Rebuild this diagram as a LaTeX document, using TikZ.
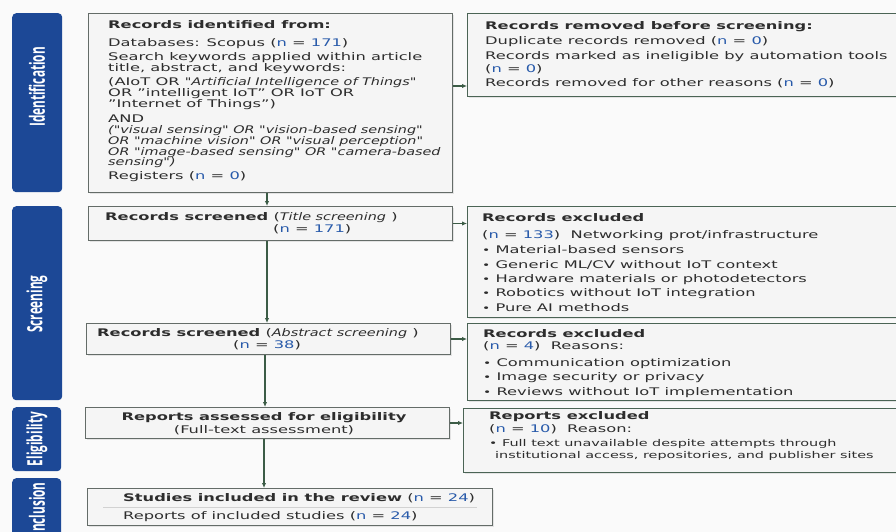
\documentclass[tikz,border=0pt]{standalone}
\usepackage{fontspec}
\setmainfont[FakeStretch=1.55]{DejaVu Sans}
\newfontfamily\itfam[FakeStretch=1.37]{DejaVu Sans}
\newfontfamily\labelfont[FakeStretch=0.56]{Open Sans}
\usetikzlibrary{arrows.meta,shadows}
\definecolor{bgc}{RGB}{250,250,250}
\definecolor{boxfill}{RGB}{245,245,245}
\definecolor{boxline}{RGB}{100,108,104}
\definecolor{rline}{RGB}{75,100,85}
\definecolor{conn}{RGB}{60,92,70}
\definecolor{sideblue}{RGB}{28,72,150}
\definecolor{txt}{RGB}{45,45,45}
\definecolor{nblue}{RGB}{40,90,170}
\newcommand{\ncount}[1]{(\textcolor{nblue}{n} = \textcolor{nblue}{#1})}
\newcommand{\itx}[1]{{\itfam\itshape #1}}
\tikzset{
  lbox/.style={draw=boxline, line width=1pt, fill=boxfill, anchor=north west,
    inner sep=0pt, drop shadow={shadow xshift=1.2pt, shadow yshift=-1.2pt, opacity=0.18}},
  rbox/.style={lbox, draw=rline},
  sidebar/.style={fill=sideblue, rounded corners=4pt, anchor=north west, inner sep=0pt},
  sidelabel/.style={text=white, rotate=90, inner sep=0pt,
    font=\labelfont\bfseries\fontsize{21}{22}\selectfont},
  txtnode/.style={inner sep=0pt, text=txt, align=left, anchor=base west,
    font=\fontsize{10.5}{10.7}\selectfont},
  arr/.style={draw=conn, line width=1.1pt, -{Latex[length=5pt,width=4.5pt]}},
}
\begin{document}
\begin{tikzpicture}[x=1pt,y=-1pt]
\useasboundingbox (0,0) rectangle (896,532);
\fill[bgc] (0,0) rectangle (896,532);
\clip (0,0) rectangle (896,532);

% side bars
\node[sidebar, minimum width=50pt, minimum height=179pt] (s1) at (12,13) {};
\node[sidebar, minimum width=50pt, minimum height=194pt] (s2) at (12,206) {};
\node[sidebar, minimum width=49pt, minimum height=64pt] (s3) at (12,407) {};
\node[sidebar, minimum width=49pt, minimum height=70pt] (s4) at (12,478) {};
\node[sidelabel] (l1) at (37,87) {Identification};
\node[sidelabel] (l2) at (37,304) {Screening};
\node[sidelabel] (l3) at (37,439) {Eligibility};
\node[sidelabel] (l4) at (37,509) {Inclusion};

% boxes
\node[lbox, minimum width=364pt, minimum height=179pt] (b1) at (88,13) {};
\node[rbox, minimum width=440pt, minimum height=83pt] (b2) at (467,13) {};
\node[lbox, minimum width=364pt, minimum height=34pt] (b3) at (88,206) {};
\node[rbox, minimum width=440pt, minimum height=111pt] (b4) at (467,206) {};
\node[lbox, minimum width=364pt, minimum height=31pt] (b5) at (86,323) {};
\node[rbox, minimum width=440pt, minimum height=77pt] (b6) at (467,323) {};
\node[lbox, minimum width=364pt, minimum height=31pt] (b7) at (85,407) {};
\node[rbox, minimum width=444pt, minimum height=64pt] (b8) at (463,408) {};
\node[lbox, minimum width=405pt, minimum height=37pt] (b9) at (87,488) {};

% box 1 text (anchored at the baseline of its last line)
\node[txtnode] (t1) at (108,179) {\textbf{Records identified from:}\\[7.5pt]
Databases: Scopus \ncount{171}\\[3.5pt]
Search keywords applied within article\\
title, abstract, and keywords:\\[4pt]
(AIoT OR \itx{"Artificial Intelligence of Things"}\\
OR "intelligent IoT" OR IoT OR\\
"Internet of Things")\\[4pt]
AND\\[1pt]
\itx{("visual sensing" OR "vision-based sensing"}\\
\itx{OR "machine vision" OR "visual perception"}\\
\itx{OR "image-based sensing" OR "camera-based}\\
\itx{sensing")}\\[2.5pt]
Registers \ncount{0}};

% box 2 text
\node[txtnode] (t2) at (485,87) {\textbf{Records removed before screening:}\\[5pt]
Duplicate records removed \ncount{0}\\[4pt]
Records marked as ineligible by automation tools\\[2pt]
\ncount{0}\\[4pt]
Records removed for other reasons \ncount{0}};

% box 3 text
\node[txtnode] (t3a) at (105,220) {\textbf{Records screened} (\itx{Title screening} )};
\node[txtnode] (t3b) at (273,232) {\ncount{171}};

% box 4 text
\node[txtnode] (t4) at (482,311) {\textbf{Records excluded}\\[6pt]
\ncount{133}\ \ Networking prot/infrastructure\\[5pt]
{\small•}\ Material-based sensors\\[4pt]
{\small•}\ Generic ML/CV without IoT context\\[3.5pt]
{\small•}\ Hardware materials or photodetectors\\[3.5pt]
{\small•}\ Robotics without IoT integration\\[3.5pt]
{\small•}\ Pure AI methods};

% box 5 text
\node[txtnode] (t5a) at (97,336) {\textbf{Records screened} (\itx{Abstract screening} )};
\node[txtnode] (t5b) at (233,348) {\ncount{38}};

% box 6 text
\node[txtnode] (t6) at (483,395) {\textbf{Records excluded}\\[2pt]
\ncount{4}\ \ Reasons:\\[6pt]
{\small•}\ Communication optimization\\[3.5pt]
{\small•}\ Image security or privacy\\[3.5pt]
{\small•}\ Reviews without IoT implementation};

% box 7 text
\node[txtnode, anchor=base] (t7a) at (264,420) {\textbf{Reports assessed for eligibility}};
\node[txtnode, anchor=base] (t7b) at (264,433) {(Full-text assessment)};

% box 8 text
\node[txtnode] (t8) at (489,458) {\textbf{Reports excluded}\\[2pt]
\ncount{10}\ \ Reason:\\[3pt]
{\fontsize{9.3}{12}\selectfont{\small•}\ Full text unavailable despite attempts through}\\[1pt]
{\fontsize{9.3}{12}\selectfont\hspace*{6pt}institutional access, repositories, and publisher sites}};

% box 9 text
\node[txtnode] (t9a) at (123,501) {\textbf{Studies included in the review} \ncount{24}};
\node[txtnode] (t9b) at (123,519) {Reports of included studies \ncount{24}};
\draw[gray!35, line width=0.6pt] (b9.west |- 0,507) ++(16,0) -- ([xshift=-16pt]b9.east |- 0,507);

% connectors
\coordinate (r1) at (0,86);
\coordinate (cx1) at (267,0);
\coordinate (cx2) at (265,0);
\coordinate (cx3) at (264,0);
\draw[arr] (r1 -| b1.east) -- (r1 -| b2.west);
\draw[arr] (b3.east) -- (b3.east -| b4.west);
\draw[arr] (b5.east) -- (b5.east -| b6.west);
\draw[arr] (b7.east) -- (b7.east -| b8.west);
\draw[arr] (cx1 |- b1.south) -- (cx1 |- b3.north);
\draw[arr] (cx1 |- b3.south) -- (cx1 |- b5.north);
\draw[arr] (cx2 |- b5.south) -- (cx2 |- b7.north);
\draw[arr] (cx3 |- b7.south) -- (cx3 |- b9.north);
\end{tikzpicture}
\end{document}
